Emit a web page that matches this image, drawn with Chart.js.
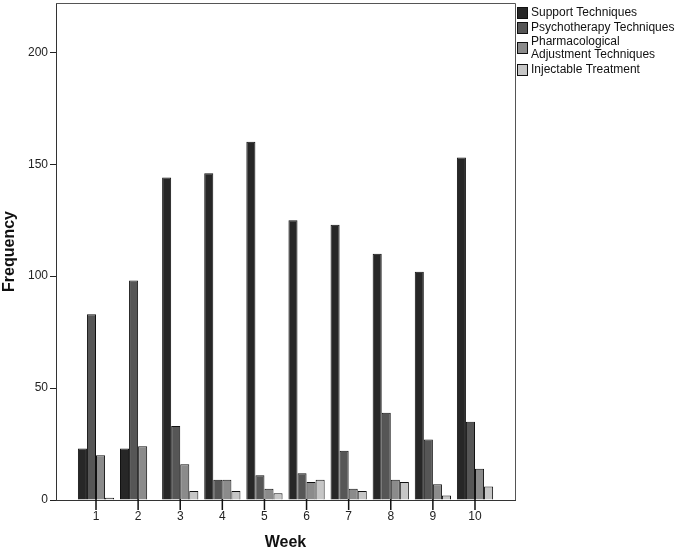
<!DOCTYPE html>
<html>
<head>
<meta charset="utf-8">
<script src="https://cdn.jsdelivr.net/npm/chart.js@4/dist/chart.umd.min.js"></script>
<style>
  html, body { margin: 0; padding: 0; background: #fff; }
  #wrap { width: 682px; height: 550px; }
</style>
</head>
<body>
<div id="wrap"><canvas id="weekChart" width="682" height="550"></canvas></div>
<script>
const weeks = [1, 2, 3, 4, 5, 6, 7, 8, 9, 10];
const support = [23, 23, 144, 146, 160, 125, 123, 110, 102, 153];
const psychotherapy = [83, 98, 33, 9, 11, 12, 22, 39, 27, 35];
const pharmacological = [20, 24, 16, 9, 5, 8, 5, 9, 7, 14];
const injectable = [1, 0, 4, 4, 3, 9, 4, 8, 2, 6];
const yTicks = [0, 50, 100, 150, 200];

const seriesNames = [
  ["Support Techniques"],
  ["Psychotherapy Techniques"],
  ["Pharmacological", "Adjustment Techniques"],
  ["Injectable Treatment"],
];
const seriesColors = ["#272727", "#565656", "#8b8b8b", "#c6c6c6"];

const font = "'Liberation Sans', Arial, sans-serif";

function toPoints(values) {
  return values.map((v, i) => ({ x: weeks[i], y: v }));
}

// box around the plot area, week tick marks and the legend on the right
const framePlugin = {
  id: "frame",
  afterDraw(chart) {
    const { ctx, chartArea: a } = chart;
    ctx.save();
    ctx.strokeStyle = "#555";
    ctx.lineWidth = 1;
    ctx.beginPath();
    ctx.moveTo(a.left, a.top + 0.5);
    ctx.lineTo(a.right + 0.5, a.top + 0.5);
    ctx.lineTo(a.right + 0.5, a.bottom);
    ctx.stroke();

    const xs = chart.scales.x;
    ctx.strokeStyle = "#111";
    ctx.lineWidth = 1.5;
    ctx.beginPath();
    weeks.forEach((w) => {
      const px = xs.getPixelForValue(w);
      ctx.moveTo(px, a.bottom - 1);
      ctx.lineTo(px, a.bottom + 10);
    });
    ctx.stroke();

    const rows = [13, 28, 48, 70];
    ctx.lineWidth = 1;
    ctx.font = "12px " + font;
    ctx.textBaseline = "middle";
    seriesNames.forEach((lines, i) => {
      const cy = rows[i];
      ctx.fillStyle = seriesColors[i];
      ctx.fillRect(a.right + 2, cy - 6, 11, 12);
      ctx.strokeStyle = "#111";
      ctx.strokeRect(a.right + 2.5, cy - 5.5, 10, 11);
      ctx.fillStyle = "#111";
      lines.forEach((t, k) => {
        const ty = cy + (k - (lines.length - 1) / 2) * 13;
        ctx.fillText(t, a.right + 16, ty);
      });
    });
    ctx.restore();
  }
};

const ctx = document.getElementById("weekChart").getContext("2d");

new Chart(ctx, {
  type: "bar",
  data: {
    datasets: [
      { label: seriesNames[0].join(" "), data: toPoints(support) },
      { label: seriesNames[1].join(" "), data: toPoints(psychotherapy) },
      { label: seriesNames[2].join(" "), data: toPoints(pharmacological) },
      { label: seriesNames[3].join(" "), data: toPoints(injectable) },
    ].map((d, i) => ({
      ...d,
      backgroundColor: seriesColors[i],
      borderColor: "#111",
      borderWidth: 1,
      categoryPercentage: 0.86,
      barPercentage: 1,
    })),
  },
  options: {
    responsive: false,
    animation: false,
    layout: { padding: { top: 3, right: 167, left: 0, bottom: 0 } },
    plugins: {
      legend: { display: false },
      tooltip: { enabled: false },
    },
    scales: {
      x: {
        type: "linear",
        offset: false,
        min: 0.05,
        max: 10.95,
        grid: { display: false },
        border: { display: true, color: "#333", width: 1 },
        ticks: {
          stepSize: 1,
          includeBounds: false,
          color: "#222",
          font: { family: font, size: 12 },
          padding: 1,
        },
        title: {
          display: true,
          text: "Week",
          color: "#111",
          font: { family: font, size: 16, weight: "bold" },
          padding: { top: 0, bottom: -2 },
        },
        afterFit(scale) {
          scale.height = 50;
          scale.paddingLeft = 0;
          scale.paddingRight = 0;
        },
      },
      y: {
        min: 0,
        max: 222,
        grid: {
          display: true,
          drawOnChartArea: false,
          drawTicks: true,
          tickLength: 6,
          color: "#222",
          tickColor: "#222",
          tickWidth: 1,
        },
        border: { display: true, color: "#333", width: 1 },
        afterBuildTicks(scale) { scale.ticks = yTicks.map((v) => ({ value: v })); },
        ticks: {
          color: "#222",
          font: { family: font, size: 12 },
          padding: 2,
        },
        title: {
          display: true,
          text: "Frequency",
          color: "#111",
          font: { family: font, size: 16, weight: "bold" },
          padding: { top: 0, bottom: 8 },
        },
        afterFit(scale) {
          scale.width = 56;
          scale.paddingTop = 0;
          scale.paddingBottom = 0;
        },
      },
    },
  },
  plugins: [framePlugin],
});
</script>
</body>
</html>
